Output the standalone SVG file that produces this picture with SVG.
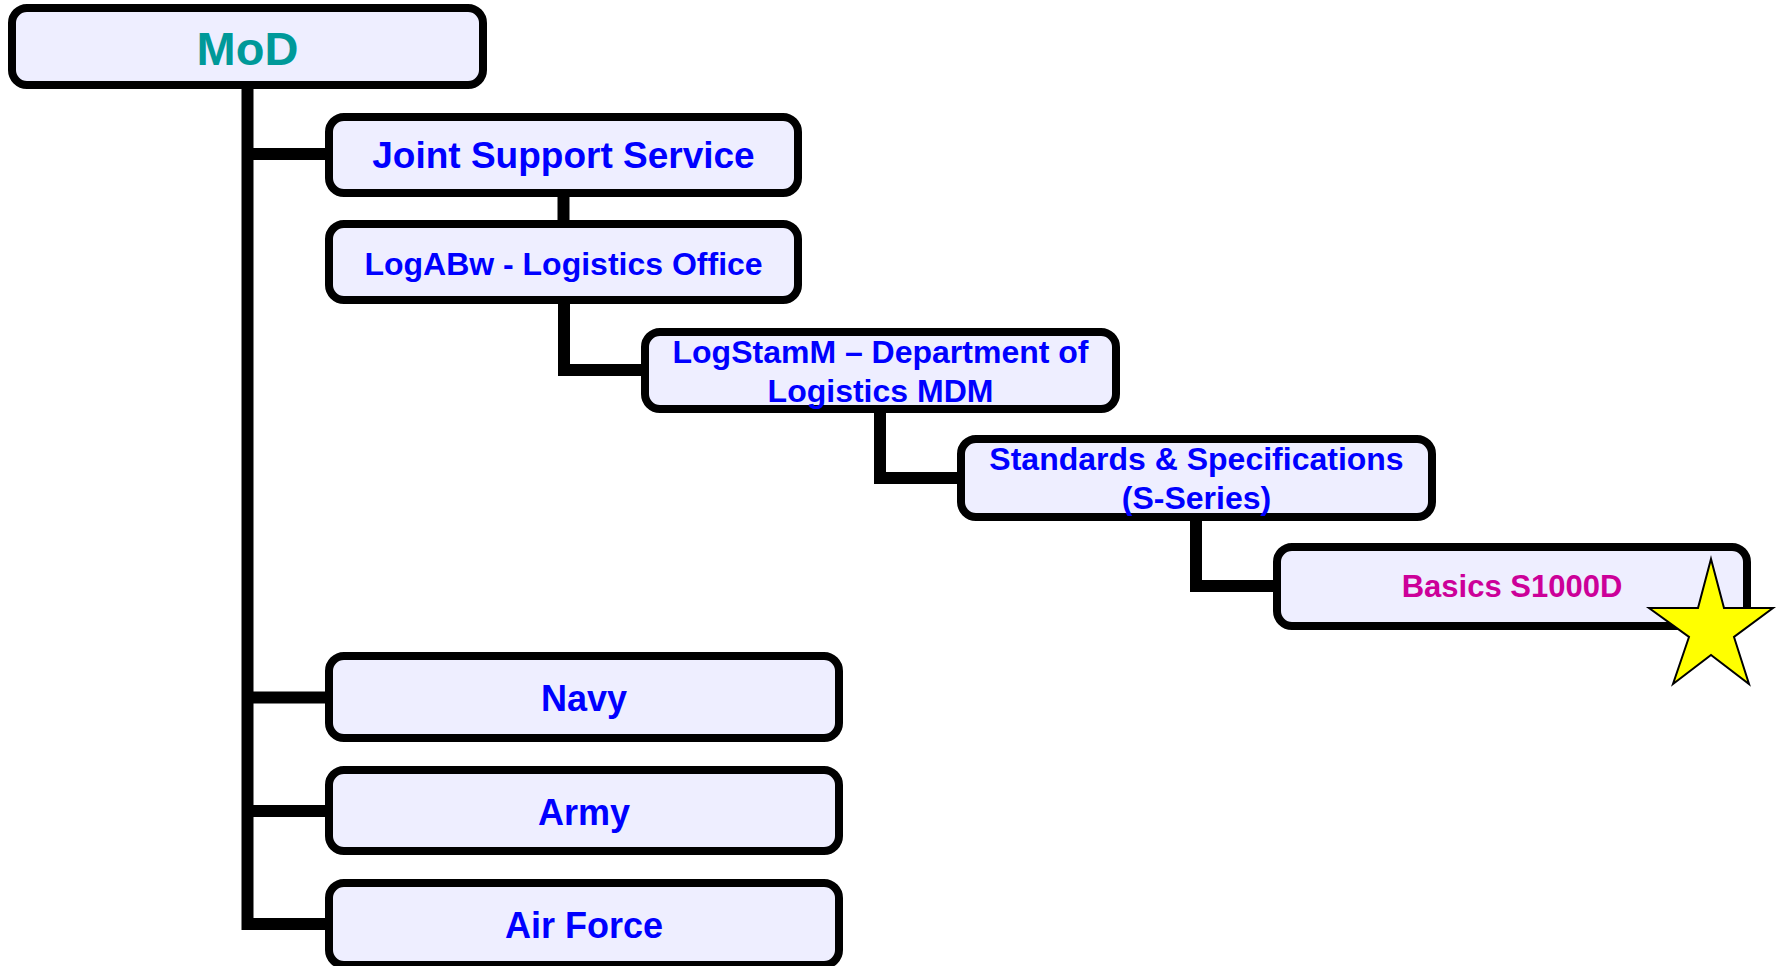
<svg xmlns="http://www.w3.org/2000/svg" width="1781" height="966" viewBox="0 0 1781 966">
<style>
.box{fill:#EEEEFF;stroke:#000;stroke-width:8}
.con{fill:none;stroke:#000;stroke-width:12;stroke-linejoin:miter;stroke-linecap:butt}
.t{font-family:"Liberation Sans",Arial,sans-serif;font-weight:bold;text-anchor:middle;fill:#0000FF}
</style>
<rect width="1781" height="966" fill="#FFFFFF"/>
<g id="connectors">
<path class="con" d="M247.5,85 V924 H329"/>
<path class="con" d="M247.5,154 H329"/>
<path class="con" d="M247.5,697.5 H329"/>
<path class="con" d="M247.5,811 H329"/>
<path class="con" d="M563.5,193 V224"/>
<path class="con" d="M564,300 V370 H645"/>
<path class="con" d="M880,409 V478 H961"/>
<path class="con" d="M1196,517 V586 H1277"/>
</g>
<g id="mod">
<rect class="box" x="12" y="8" width="471" height="77" rx="15"/>
<text class="t" x="247.5" y="65" font-size="47" style="fill:#009999">MoD</text>
</g>
<g id="jss">
<rect class="box" x="329" y="117" width="469" height="76" rx="15"/>
<text class="t" x="563.5" y="168" font-size="37">Joint Support Service</text>
</g>
<g id="logabw">
<rect class="box" x="329" y="224" width="469" height="76" rx="15"/>
<text class="t" x="563.5" y="275" font-size="32">LogABw - Logistics Office</text>
</g>
<g id="logstamm">
<rect class="box" x="645" y="332" width="471" height="77" rx="15"/>
<text class="t" x="880.5" y="363" font-size="32">LogStamM – Department of</text>
<text class="t" x="880.5" y="402" font-size="32">Logistics MDM</text>
</g>
<g id="standards">
<rect class="box" x="961" y="439" width="471" height="78" rx="15"/>
<text class="t" x="1196.5" y="470" font-size="32">Standards &amp; Specifications</text>
<text class="t" x="1196.5" y="509" font-size="32">(S-Series)</text>
</g>
<g id="basics">
<rect class="box" x="1277" y="547" width="470" height="79" rx="15"/>
<text class="t" x="1512" y="597" font-size="31" style="fill:#CC0099">Basics S1000D</text>
<polygon points="1711,559 1724,608 1773,608 1734,637 1749,684 1711,655 1673,684 1689,637 1649,608 1698,608" fill="#FFFF00" stroke="#000" stroke-width="2"/>
</g>
<g id="navy">
<rect class="box" x="329" y="656" width="510" height="82" rx="15"/>
<text class="t" x="584" y="711" font-size="36">Navy</text>
</g>
<g id="army">
<rect class="box" x="329" y="770" width="510" height="81" rx="15"/>
<text class="t" x="584" y="825" font-size="36">Army</text>
</g>
<g id="airforce">
<rect class="box" x="329" y="883" width="510" height="82" rx="15"/>
<text class="t" x="584" y="938" font-size="36">Air Force</text>
</g>
</svg>
